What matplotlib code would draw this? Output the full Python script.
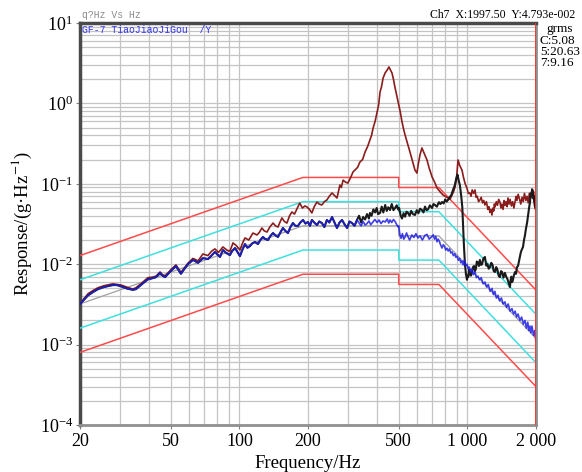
import numpy as np
import matplotlib
matplotlib.use('Agg')
import matplotlib.pyplot as plt
from matplotlib.ticker import FixedLocator, FixedFormatter, LogLocator, NullFormatter

plt.rcParams['font.family'] = ['Liberation Serif', 'DejaVu Serif']
plt.rcParams['mathtext.fontset'] = 'stix'

# ---------------- data ----------------

# reference profile and tolerance lines (Hz, g^2/Hz)
prof_f   = [20, 190, 500, 500, 750, 2000]
prof_v   = [0.0032, 0.030, 0.030, 0.0225, 0.0225, 0.00119]
abort_hi = [0.0128, 0.120, 0.120, 0.090, 0.090, 0.00476]
alarm_hi = [0.0064, 0.060, 0.060, 0.045, 0.045, 0.00238]
alarm_lo = [0.0016, 0.015, 0.015, 0.01125, 0.01125, 0.000595]
abort_lo = [0.0008, 0.0075, 0.0075, 0.0056, 0.0056, 0.0003]

# control channels (black + blue overlap below ~330 Hz)
low_f = [20, 20.8, 21.7, 22.8, 24.0, 25.5, 27.0, 27.9, 29.0, 30.3,
         32.0, 34.1, 35.2, 37.0, 39.7, 41.5, 43.1, 44.9, 46.0, 47.2,
         50.0, 52.7, 55.4, 57.5, 59.5, 62.6, 65.9, 69.2, 72.8, 75.5,
         78.1, 82.2, 84.7, 87.5, 90.9, 93.0, 95.7, 100.6, 103.0, 105.8,
         108.5, 111.3, 114.0, 117.1, 120.7, 123.5, 126.9, 130.0, 133.6, 137.0,
         140.5, 144.0, 147.7, 151.5, 155.3, 159.0, 163.3, 167.5, 171.8, 176.0,
         180.7, 185.0, 190.2, 195.0, 200, 204, 208, 213, 219, 224,
         230, 236, 242, 248, 255, 262, 268, 275, 282, 290,
         297, 304, 312, 320, 328]
low_v = [0.0032, 0.0036, 0.0041, 0.0045, 0.0049, 0.0052, 0.0054, 0.0055, 0.0055, 0.0053,
         0.0050, 0.0048, 0.0049, 0.0055, 0.0065, 0.0067, 0.0069, 0.0078, 0.0072, 0.0069,
         0.0082, 0.0095, 0.0076, 0.0088, 0.0100, 0.0113, 0.0104, 0.0119, 0.0116, 0.0128,
         0.0142, 0.0123, 0.0150, 0.0138, 0.0130, 0.0146, 0.0159, 0.0126, 0.0150, 0.0178,
         0.0160, 0.0168, 0.0182, 0.0189, 0.0178, 0.0200, 0.0218, 0.0205, 0.0200, 0.0226,
         0.0244, 0.0228, 0.0218, 0.0250, 0.0282, 0.0260, 0.0244, 0.0290, 0.0325, 0.0300,
         0.0299, 0.0330, 0.0355, 0.0320, 0.0335, 0.0300, 0.0355, 0.0330, 0.0307, 0.0340,
         0.0325, 0.0290, 0.0355, 0.0330, 0.0386, 0.0325, 0.0282, 0.0330, 0.0355, 0.0310,
         0.0282, 0.0340, 0.0325, 0.0300, 0.0355]

black_f = [335, 342, 349, 356, 363, 370, 374, 380, 387, 394,
           400, 406, 414, 421, 428, 436, 443, 450, 458, 466,
           474, 482, 490, 497, 502, 510, 517, 525, 533, 541,
           549, 558, 567, 577, 589, 600, 610, 620, 632, 642,
           652, 662, 672, 685, 700, 710, 721, 735, 750, 762,
           774, 787, 800, 811, 822, 835, 850, 865, 880, 895,
           905, 915, 928, 940, 950, 958, 966, 976, 986, 996,
           1003, 1010, 1018, 1025, 1036, 1047, 1058, 1070, 1080, 1090,
           1100, 1113, 1124, 1135, 1148, 1160, 1176, 1194, 1210, 1225,
           1240, 1256, 1273, 1290, 1305, 1322, 1338, 1355, 1372, 1389,
           1405, 1420, 1440, 1461, 1480, 1500, 1518, 1537, 1548, 1560,
           1572, 1585, 1602, 1620, 1635, 1650, 1668, 1685, 1700, 1715,
           1730, 1754, 1772, 1790, 1808, 1827, 1840, 1855, 1868, 1880,
           1895, 1910, 1925, 1940, 1950, 1960, 1970, 1980, 1997]
black_v = [0.0400, 0.0330, 0.0386, 0.0360, 0.0420, 0.0370, 0.0434, 0.0400, 0.0480, 0.0440,
           0.0500, 0.0420, 0.0434, 0.0520, 0.0440, 0.0545, 0.0460, 0.0510, 0.0472, 0.0560,
           0.0470, 0.0500, 0.0540, 0.0480, 0.0500, 0.0400, 0.0370, 0.0430, 0.0390, 0.0450,
           0.0434, 0.0400, 0.0460, 0.0420, 0.0409, 0.0470, 0.0430, 0.0490, 0.0472, 0.0440,
           0.0520, 0.0470, 0.0480, 0.0540, 0.0500, 0.0560, 0.0545, 0.0520, 0.0590, 0.0560,
           0.0594, 0.0570, 0.0640, 0.0600, 0.0629, 0.0680, 0.0720, 0.0838, 0.0950, 0.118,
           0.130, 0.112, 0.095, 0.070, 0.0515, 0.0300, 0.0170, 0.0100, 0.0075, 0.0064,
           0.0072, 0.0070, 0.0086, 0.0082, 0.0072, 0.0078, 0.0092, 0.0095, 0.0082, 0.0088,
           0.0108, 0.0105, 0.0095, 0.0113, 0.0098, 0.0100, 0.0118, 0.0123, 0.0096, 0.0100,
           0.0088, 0.0092, 0.0104, 0.0098, 0.0082, 0.0080, 0.0092, 0.0085, 0.0072, 0.0069,
           0.0082, 0.0080, 0.0068, 0.0078, 0.0070, 0.0065, 0.0058, 0.0052, 0.0064, 0.0070,
           0.0060, 0.0064, 0.0074, 0.0080, 0.0076, 0.0092, 0.0095, 0.0110, 0.0125, 0.0140,
           0.0150, 0.0164, 0.0200, 0.0230, 0.0280, 0.0325, 0.0380, 0.0450, 0.0520, 0.0577,
           0.0760, 0.0700, 0.0850, 0.0800, 0.0650, 0.0700, 0.0560, 0.0515, 0.0479]

blue_f = [335, 342, 349, 356, 363, 370, 377, 385, 393, 402,
          410, 418, 427, 436, 445, 452, 458, 466, 474, 482,
          490, 497, 500, 506, 512, 519, 526, 533, 541, 549,
          558, 571, 583, 595, 607, 620, 635, 651, 665, 680,
          700, 709, 718, 727, 736, 745, 755, 764, 774, 784,
          795, 804, 814, 824, 835, 846, 857, 868, 880, 890,
          901, 913, 925, 936, 947, 958, 970, 983, 996, 1008,
          1020, 1033, 1047, 1063, 1080, 1096, 1113, 1130, 1150, 1172,
          1194, 1215, 1235, 1258, 1282, 1300, 1320, 1340, 1362, 1385,
          1410, 1435, 1461, 1485, 1510, 1540, 1569, 1595, 1620, 1645,
          1668, 1700, 1730, 1760, 1790, 1815, 1840, 1860, 1880, 1900,
          1920, 1950, 1975, 1997]
blue_v = [0.0325, 0.0300, 0.0340, 0.0307, 0.0320, 0.0345, 0.0310, 0.0335, 0.0360, 0.0330,
          0.0355, 0.0320, 0.0345, 0.0335, 0.0365, 0.0325, 0.0355, 0.0330, 0.0360, 0.0340,
          0.0310, 0.0290, 0.0300, 0.0231, 0.0210, 0.0240, 0.0205, 0.0218, 0.0245, 0.0220,
          0.0200, 0.0231, 0.0215, 0.0240, 0.0212, 0.0225, 0.0200, 0.0228, 0.0235, 0.0205,
          0.0222, 0.0232, 0.0205, 0.0222, 0.0190, 0.0205, 0.0190, 0.0172, 0.0159, 0.0175,
          0.0165, 0.0150, 0.0158, 0.0146, 0.0155, 0.0138, 0.0142, 0.0128, 0.0135, 0.0122,
          0.0126, 0.0112, 0.0118, 0.0104, 0.0110, 0.0098, 0.0112, 0.0096, 0.0100, 0.0088,
          0.0092, 0.0080, 0.0087, 0.0074, 0.0080, 0.0068, 0.0071, 0.0064, 0.0068, 0.0057,
          0.0060, 0.0052, 0.0056, 0.0046, 0.0050, 0.0042, 0.0046, 0.0038, 0.0041, 0.0035,
          0.0038, 0.0032, 0.0034, 0.0029, 0.0032, 0.0026, 0.0028, 0.0024, 0.0026, 0.0022,
          0.0024, 0.0020, 0.0022, 0.0018, 0.0020, 0.0016, 0.0019, 0.0015, 0.0017, 0.0014,
          0.0017, 0.0013, 0.0015, 0.0011]

# response channel (dark red)
brown_f = [20, 20.8, 21.7, 22.8, 24.0, 25.5, 27.0, 27.9, 29.0, 30.3,
           32.0, 34.1, 35.2, 37.0, 39.7, 41.5, 43.1, 44.9, 46.0, 47.2,
           50.0, 52.7, 55.4, 57.5, 59.5, 62.6, 65.9, 69.2, 72.8, 75.5,
           78.1, 81.0, 84.7, 88.0, 90.9, 93.8, 97.0, 100.6, 103.0, 105.8,
           110.0, 114.7, 119.5, 122.5, 125.6, 128.5, 132.2, 136.0, 140.5, 144.0,
           147.7, 150.5, 153.7, 157.5, 161.7, 166.0, 170.0, 174.5, 178.9, 184.0,
           189.0, 194.0, 198.0, 203.0, 208.0, 213.0, 219.0, 224.0, 230.0, 236.0,
           242.0, 248.0, 255.0, 261.0, 268.0, 276.0, 280.0, 285.0, 292.0, 299.0,
           307.0, 315.0, 321.0, 330.0, 338.0, 347.0, 356.0, 365.0, 374.0, 380.0,
           386.0, 394.0, 402.0, 408.0, 414.0, 420.0, 427.0, 436.0, 445.0, 453.0,
           460.0, 467.0, 474.0, 482.0, 490.0, 497.0, 507.0, 517.0, 525.0, 533.0,
           546.0, 560.0, 575.0, 589.0, 601.0, 610.0, 620.0, 632.0, 642.0, 651.0,
           665.0, 680.0, 700.0, 718.0, 736.0, 758.0, 782.0, 805.0, 826.0, 839.0,
           855.0, 870.0, 883.0, 897.0, 910.0, 925.0, 947.0, 962.0, 976.0, 996.0,
           1010, 1026, 1038, 1050, 1065, 1080, 1092, 1105, 1120, 1135,
           1150, 1165, 1180, 1194, 1212, 1230, 1243, 1256, 1270, 1282,
           1295, 1305, 1314, 1322, 1340, 1355, 1372, 1389, 1404, 1418,
           1434, 1450, 1465, 1480, 1494, 1507, 1523, 1540, 1560, 1580,
           1600, 1618, 1635, 1650, 1670, 1690, 1715, 1737, 1758, 1780,
           1805, 1827, 1848, 1870, 1895, 1919, 1935, 1950, 1965, 1980,
           1997]
brown_v = [0.0032, 0.0037, 0.0043, 0.0047, 0.0051, 0.0054, 0.0056, 0.0057, 0.0056, 0.0055,
           0.0052, 0.0049, 0.0051, 0.0057, 0.0068, 0.0069, 0.0071, 0.0080, 0.0074, 0.0071,
           0.0085, 0.0098, 0.0079, 0.0090, 0.0103, 0.0118, 0.0110, 0.0134, 0.0128, 0.0145,
           0.0155, 0.0140, 0.0164, 0.0150, 0.0145, 0.0184, 0.0170, 0.0150, 0.0180, 0.0212,
           0.0200, 0.0244, 0.0231, 0.0250, 0.0282, 0.0260, 0.0251, 0.0290, 0.0325, 0.0300,
           0.0290, 0.0330, 0.0376, 0.0340, 0.0325, 0.0400, 0.0446, 0.0420, 0.0486, 0.0577,
           0.0500, 0.0530, 0.0515, 0.0480, 0.0434, 0.0520, 0.0594, 0.0560, 0.0545, 0.0600,
           0.0629, 0.0700, 0.0769, 0.0720, 0.0666, 0.0966, 0.0900, 0.111, 0.105, 0.102,
           0.118, 0.140, 0.148, 0.160, 0.187, 0.200, 0.249, 0.290, 0.351, 0.400,
           0.494, 0.600, 0.780, 0.950, 1.39, 1.60, 2.07, 2.40, 2.60, 2.84,
           2.60, 2.39, 2.00, 1.56, 1.25, 1.04, 0.800, 0.587, 0.480, 0.405,
           0.320, 0.249, 0.190, 0.148, 0.136, 0.180, 0.230, 0.279, 0.250, 0.228,
           0.198, 0.157, 0.122, 0.105, 0.0887, 0.0800, 0.0726, 0.0690, 0.0666, 0.0640,
           0.0720, 0.0800, 0.0912, 0.120, 0.198, 0.170, 0.148, 0.120, 0.102, 0.0880,
           0.0760, 0.0769, 0.0700, 0.0840, 0.0760, 0.0838, 0.0680, 0.0700, 0.0600, 0.0629,
           0.0680, 0.0580, 0.0620, 0.0545, 0.0600, 0.0480, 0.0520, 0.0440, 0.0480, 0.0409,
           0.0500, 0.0460, 0.0560, 0.0515, 0.0600, 0.0540, 0.0640, 0.0594, 0.0500, 0.0560,
           0.0480, 0.0620, 0.0540, 0.0600, 0.0520, 0.0666, 0.0560, 0.0640, 0.0530, 0.0600,
           0.0500, 0.0594, 0.0700, 0.0620, 0.0740, 0.0660, 0.0560, 0.0680, 0.0600, 0.0760,
           0.0620, 0.0700, 0.0580, 0.0760, 0.0660, 0.0860, 0.0720, 0.0800, 0.0600, 0.0680,
           0.0620]

xticks = [20, 50, 100, 200, 500, 1000, 2000]
xtick_labels = ['20', '50', '100', '200', '500', '1 000', '2 000']
xgrid = [30, 40, 60, 70, 80, 90, 300, 400, 600, 700, 800, 900]

grms_lines = ['grms', 'C:5.08', '5:20.63', '7:9.16']

# ---------------- plot ----------------

W, H = 582, 472
fig = plt.figure(figsize=(W / 100, H / 100), dpi=100)
ax = fig.add_axes([80 / W, 1 - 425 / H, 456 / W, 402 / H])

ax.set_xscale('log')
ax.set_yscale('log')
ax.set_xlim(20, 2000)
ax.set_ylim(1e-4, 1e1)

# tolerance bands
ax.plot(prof_f, abort_hi, color='#ff4a4a', lw=1.1, zorder=3)
ax.plot(prof_f, abort_lo, color='#ff4a4a', lw=1.1, zorder=3)
ax.plot(prof_f, alarm_hi, color='#3ee0e0', lw=1.1, zorder=3)
ax.plot(prof_f, alarm_lo, color='#3ee0e0', lw=1.1, zorder=3)
ax.plot(prof_f, prof_v, color='#a0a0a0', lw=0.9, zorder=3)

# measured channels
ax.plot(brown_f, brown_v, color='#8b1c1c', lw=1.2, zorder=4)
ax.plot(low_f + black_f, low_v + black_v, color='#1a1a1a', lw=1.5, zorder=5)
ax.plot(low_f + blue_f, low_v + blue_v, color='#1e1ee6', lw=1.2, alpha=0.85, zorder=6)

# cursor
ax.axvline(1997.5, color='#ff3030', lw=1.3, zorder=7)

# axes cosmetics
ax.xaxis.set_major_locator(FixedLocator(xticks))
ax.xaxis.set_major_formatter(FixedFormatter(xtick_labels))
ax.xaxis.set_minor_locator(FixedLocator(xgrid))
ax.xaxis.set_minor_formatter(NullFormatter())
ax.yaxis.set_major_locator(LogLocator(base=10, numticks=10))
ax.yaxis.set_minor_locator(LogLocator(base=10, subs=np.arange(2, 10), numticks=20))
ax.yaxis.set_minor_formatter(NullFormatter())

ax.grid(True, which='both', color='#c4c4c4', lw=0.9, zorder=0)
ax.tick_params(axis='both', which='major', labelsize=13, length=3, color='#808080')
ax.tick_params(axis='both', which='minor', length=0)
ax.tick_params(axis='x', pad=3)
ax.tick_params(axis='y', pad=2)

for side in ['left', 'top']:
    ax.spines[side].set_color('#4a4a4a')
    ax.spines[side].set_linewidth(2.5)
for side in ['bottom', 'right']:
    ax.spines[side].set_color('#909090')
    ax.spines[side].set_linewidth(2.0)

ax.set_xlabel('Frequency/Hz', fontsize=13.5, labelpad=3)
ax.set_ylabel('Response/(g·Hz$^{-1}$)', fontsize=13.5, labelpad=4)

# header texts
fig.text(82 / W, 1 - 15 / H, 'q?Hz Vs Hz', family='Liberation Mono', fontsize=7,
         color='#8a8a8a', va='center', ha='left')
fig.text(82 / W, 1 - 30 / H, 'GF-7 TiaoJiaoJiGou  /Y', family='Liberation Mono', fontsize=7,
         color='#3434f0', va='center', ha='left')
fig.text(575 / W, 1 - 15 / H, 'Ch7  X:1997.50  Y:4.793e-002', fontsize=8.5,
         va='center', ha='right')
fig.text(560 / W, 1 - 29 / H, grms_lines[0], fontsize=9.5, va='center', ha='center')
for i, s in enumerate(grms_lines[1:]):
    fig.text(540 / W, 1 - (41 + 11 * i) / H, s, fontsize=9.5, va='center', ha='left')

plt.savefig('out.png', dpi=100)
plt.close()
